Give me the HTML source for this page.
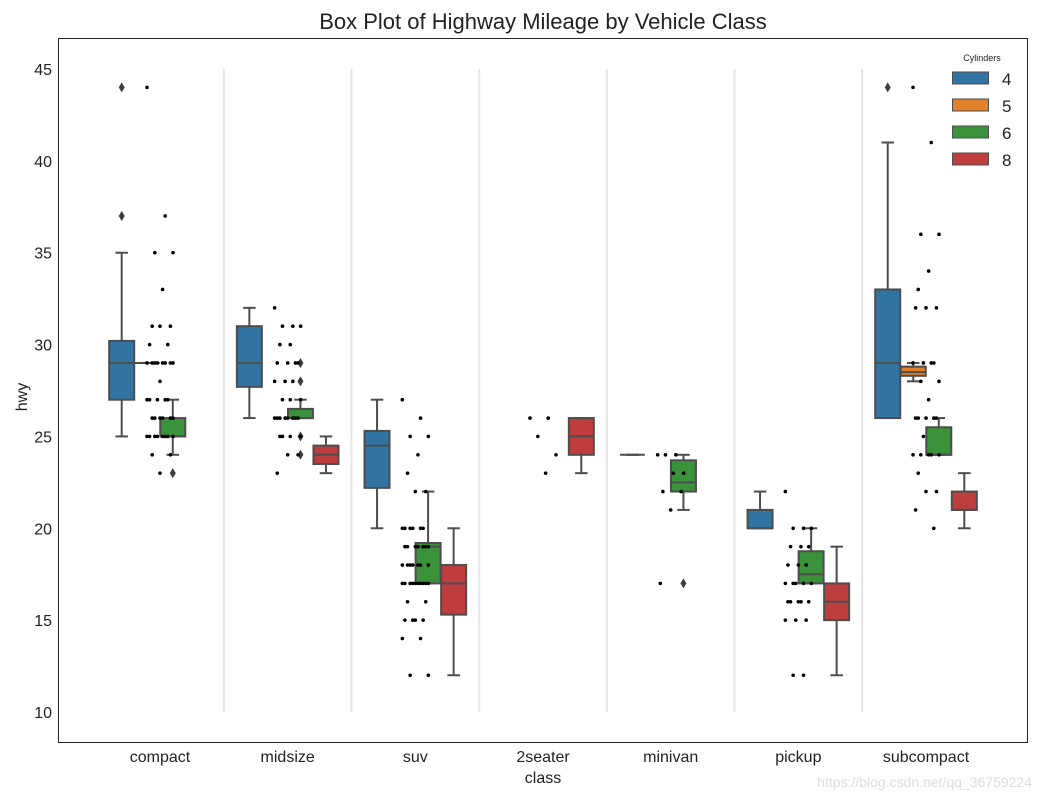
<!DOCTYPE html>
<html><head><meta charset="utf-8"><style>
body{margin:0;background:#fff;font-family:"Liberation Sans","DejaVu Sans",sans-serif}
</style></head><body>
<svg id="c" width="1040" height="800" xmlns="http://www.w3.org/2000/svg" font-family="Liberation Sans, DejaVu Sans, sans-serif"></svg>
<script>
const categories=["compact","midsize","suv","2seater","minivan","pickup","subcompact"];
const hues=["4","5","6","8"];
const hueColors=["#3274a1","#e1812c","#3a923a","#c03d3e"];
const yTicks=[10,15,20,25,30,35,40,45];
// [category, hue, whiskerLow, q1, median, q3, whiskerHigh]
const boxStats=[
[0,0,25,27,29,30.2,35],[0,1,29,29,29,29,29],[0,2,24,25,25,26,27],
[1,0,26,27.7,29,31,32],[1,2,26,26,26,26.5,27],[1,3,23,23.5,24,24.5,25],
[2,0,20,22.2,24.5,25.3,27],[2,2,17,17,19,19.2,22],[2,3,12,15.3,17,18,20],
[3,3,23,24,25,26,26],
[4,0,24,24,24,24,24],[4,2,21,22,22.5,23.7,24],
[5,0,20,20,20,21,22],[5,2,17,17,17.5,18.75,20],[5,3,12,15,16,17,19],
[6,0,26,26,29,33,41],[6,1,28,28.3,28.5,28.8,29],[6,2,24,24,24,25.5,26],[6,3,20,21,21,22,23]
];
// [category, hue, value]
const outliers=[[0,0,44],[0,0,37],[0,2,23],[1,2,29],[1,2,28],[1,2,25],[1,2,24],[4,2,17],[6,0,44]];
const stripValues=[
[44,37,35,35,33,31,31,31,30,30,29,29,29,29,29,29,29,29,28,27,27,27,27,27,26,26,26,26,26,26,25,25,25,25,25,25,25,25,24,24,23],
[32,31,31,31,30,30,29,29,29,29,28,28,28,27,27,27,26,26,26,26,26,26,26,26,25,25,25,25,24,24,23],
[27,26,25,25,24,23,22,22,20,20,20,20,20,20,19,19,19,19,19,19,19,18,18,18,18,18,18,18,17,17,17,17,17,17,17,17,17,17,16,16,15,15,15,15,14,14,12,12],
[26,26,25,24,23],
[24,24,24,23,23,22,22,21,17],
[22,20,20,20,19,19,19,18,18,18,17,17,17,17,17,16,16,16,16,16,15,15,15,12,12],
[44,41,36,36,34,33,32,32,32,29,29,29,29,28,28,27,26,26,26,26,26,25,24,24,24,24,24,23,22,22,21,20]
];
const X0=160,DX=127.67,Y10=712,PY=18.371;
const xc=i=>X0+i*DX;
const y=v=>Y10-(v-10)*PY;
const svg=document.getElementById('c');
const NS="http://www.w3.org/2000/svg";
function mk(t,a,p){const e=document.createElementNS(NS,t);for(const k in a)e.setAttribute(k,a[k]);(p||svg).appendChild(e);return e;}
let fr=mk('rect',{x:58.5,y:38.5,width:969,height:704,fill:'none',stroke:'#222','stroke-width':1});


for(let i=0;i<categories.length-1;i++){
 const l=mk('line',{x1:xc(i)+DX/2,x2:xc(i)+DX/2,y1:y(45),y2:y(10),stroke:'#e5e5e5','stroke-width':2});
 
 
}
yTicks.forEach(v=>{
 const t=mk('text',{x:52,y:y(v)+6,'text-anchor':'end','font-size':16,fill:'#222'});t.textContent=v;
 
 
});
categories.forEach((c,i)=>{
 const t=mk('text',{x:xc(i),y:762,'text-anchor':'middle','font-size':16,fill:'#222'});t.textContent=c;
 
 
});
const bw=25;
boxStats.forEach(s=>{
 const [ci,hi,lo,q1,md,q3,hi2]=s;
 const cx=xc(ci)+(hi-1.5)*DX*0.2;
 const g=mk('g',{});
 
 
 const st={stroke:'#4d4d4d','stroke-width':2};
 mk('line',Object.assign({x1:cx,x2:cx,y1:y(hi2),y2:y(q3)},st),g);
 mk('line',Object.assign({x1:cx,x2:cx,y1:y(q1),y2:y(lo)},st),g);
 mk('line',Object.assign({x1:cx-bw/4,x2:cx+bw/4,y1:y(hi2),y2:y(hi2)},st),g);
 mk('line',Object.assign({x1:cx-bw/4,x2:cx+bw/4,y1:y(lo),y2:y(lo)},st),g);
 mk('rect',Object.assign({x:cx-bw/2,y:y(q3),width:bw,height:Math.max(0,y(q1)-y(q3)),fill:hueColors[hi]},st),g);
 mk('line',Object.assign({x1:cx-bw/2,x2:cx+bw/2,y1:y(md),y2:y(md)},st),g);
});
outliers.forEach(o=>{
 const cx=xc(o[0])+(o[1]-1.5)*DX*0.2,cy=y(o[2]);
 const p=mk('polygon',{points:`${cx},${cy-5} ${cx+3},${cy} ${cx},${cy+5} ${cx-3},${cy}`,fill:'#3d3d3d'});
 
 
});
stripValues.forEach((vals,ci)=>{
 vals.forEach((v,k)=>{
  const j=((k*7)%11)/10-0.5;
  const c=mk('circle',{cx:xc(ci)+j*26,cy:y(v),r:1.8,fill:'#000'});
  
  
 });
});
let t=mk('text',{x:543,y:29,'text-anchor':'middle','font-size':22,fill:'#222'});t.textContent='Box Plot of Highway Mileage by Vehicle Class';


t=mk('text',{x:543,y:783,'text-anchor':'middle','font-size':16,fill:'#222'});t.textContent='class';


t=mk('text',{x:27,y:397,'text-anchor':'middle','font-size':16,fill:'#222',transform:'rotate(-90 27 397)'});t.textContent='hwy';


const lg=mk('g',{});


t=mk('text',{x:982,y:61,'text-anchor':'middle','font-size':9,fill:'#222'},lg);t.textContent='Cylinders';
hues.forEach((h,i)=>{
 const yy=72+i*27;
 const e=mk('g',{},lg);
 
 
 mk('rect',{x:952.5,y:yy,width:36,height:12,fill:hueColors[i],stroke:'#4d4d4d','stroke-width':1},e);
 const tt=mk('text',{x:1002,y:yy+13,'font-size':17,fill:'#222'},e);tt.textContent=h;
});
t=mk('text',{x:1032,y:787,'text-anchor':'end','font-size':14,fill:'#ddd'});t.textContent='https://blog.csdn.net/qq_36759224';


</script>
</body></html>
